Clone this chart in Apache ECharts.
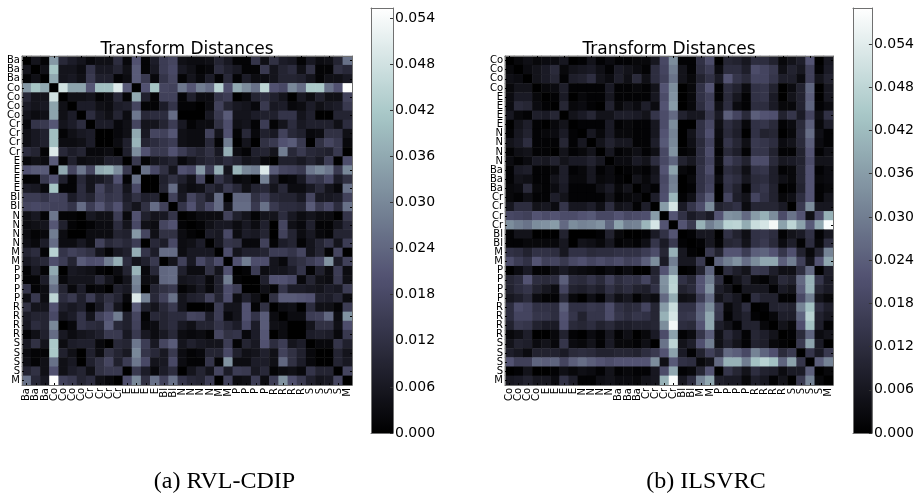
<!DOCTYPE html>
<html>
<head>
<meta charset="utf-8">
<style>html,body{margin:0;padding:0;background:#fff}#c{width:917px;height:494px}</style>
<script src="https://cdn.jsdelivr.net/npm/echarts@6/dist/echarts.min.js"></script>
</head>
<body>
<div id="c"></div>
<script>
// Labels
const rvlLabels = ["Ba","Ba","Ba","Co","Co","Co","Co","Cr","Cr","Cr","Cr","E","E","E","E","Bl","Bl","N","N","N","N","M","M","P","P","P","P","R","R","R","R","S","S","S","S","M"];
const ilsvrcLabels = ["Co","Co","Co","Co","E","E","E","E","N","N","N","N","Ba","Ba","Ba","Cr","Cr","Cr","Cr","Bl","Bl","M","M","P","P","P","P","R","R","R","R","S","S","S","S","M"];
const colorbarTicksStep = 0.006;
const rvlMax = 0.0553;
const ilsvrcMax = 0.059;

// Upper triangles of the symmetric distance matrices, in thousandths; row i starts at column i
const rvlTriangle = [
[0,5,1,33,10,7,5,2,4,4,11,2,20,1,7,15,17,4,3,3,4,9,6,1,1,13,4,12,7,6,1,6,3,4,9,26],
[0,4,41,5,5,3,13,6,6,9,4,22,1,6,15,18,6,4,1,2,11,8,6,1,1,14,5,9,11,4,12,1,1,12,10],
[0,36,5,6,4,14,8,8,1,3,22,14,2,13,17,1,5,2,7,1,10,1,7,3,3,5,9,9,8,5,1,4,4,6],
[0,48,35,35,21,40,40,50,22,0,20,41,17,16,27,21,28,25,44,19,36,31,26,45,20,18,30,25,42,42,26,20,55],
[0,4,4,5,1,3,10,1,36,8,1,16,16,1,8,3,3,13,15,0,2,9,11,8,5,0,6,3,8,4,4,16],
[0,7,7,4,3,7,8,17,1,1,7,13,1,1,0,3,16,9,6,5,2,14,6,7,2,3,7,4,6,7,14],
[0,11,6,4,9,3,27,10,11,11,25,0,0,0,6,14,22,5,5,7,8,8,13,13,5,8,0,0,9,9],
[0,7,7,2,4,17,5,5,9,15,6,1,3,3,12,19,4,5,1,15,1,5,11,6,8,8,8,4,11],
[0,0,2,4,36,6,17,16,21,4,3,3,16,5,20,1,10,2,8,6,16,10,8,2,3,12,12,4],
[0,3,8,38,9,11,13,15,4,3,3,10,1,28,0,5,0,12,14,20,22,14,0,12,17,14,2],
[0,8,31,20,14,14,20,15,11,9,12,6,37,3,1,8,9,5,28,10,14,10,9,8,14,0],
[0,14,1,5,7,9,2,5,8,10,8,11,9,5,6,2,0,8,8,6,9,6,15,0,19],
[0,26,18,12,5,20,18,33,15,37,5,38,30,28,50,22,17,16,14,27,30,27,14,30],
[0,0,8,12,8,4,17,0,13,8,2,3,0,29,8,1,2,6,15,13,18,7,12],
[0,9,25,5,3,4,10,7,14,10,4,9,10,5,10,3,3,6,10,5,2,26],
[0,16,6,17,12,7,25,0,24,24,12,16,10,9,9,6,17,6,6,7,16],
[0,13,20,12,18,25,5,25,25,14,26,14,11,11,10,22,14,18,11,26],
[0,1,3,3,3,16,8,5,1,5,5,11,6,3,5,3,3,0,13],
[0,1,4,6,6,3,6,3,8,0,17,4,2,8,1,1,5,10],
[0,7,6,18,3,7,6,9,0,16,9,3,6,2,1,9,9],
[0,6,13,12,2,2,16,1,7,9,1,5,9,13,5,15],
[0,19,5,8,8,9,15,15,13,17,5,9,1,17,0],
[0,20,28,19,19,5,2,10,12,15,18,32,7,16],
[0,1,15,3,5,5,7,13,1,8,3,15,3],
[0,0,8,20,20,18,2,9,4,3,14,4],
[0,4,1,13,7,7,6,5,7,6,15],
[0,12,22,22,21,20,8,7,10,3],
[0,3,4,0,11,4,4,1,15],
[0,3,3,15,16,24,3,32],
[0,0,5,12,12,4,19],
[0,7,8,7,2,14],
[0,2,2,13,8],
[0,0,9,5],
[0,9,6],
[0,17],
[0]
];

const ilsvrcTriangle = [
[0,2,4,2,3,3,6,0,1,5,1,3,1,1,2,2,6,19,33,1,1,13,20,0,10,9,6,12,12,9,2,5,8,22,0,6],
[0,3,5,7,11,2,5,6,7,4,1,7,5,3,1,12,18,30,5,1,12,16,3,12,12,8,20,18,15,4,9,6,17,1,7],
[0,5,7,10,1,8,9,12,5,3,8,4,11,4,12,17,28,5,2,9,13,7,22,14,11,18,18,14,8,8,3,17,5,9],
[0,2,3,8,1,1,1,1,7,1,1,2,1,5,22,33,0,2,13,22,1,12,9,3,13,14,9,0,3,9,25,0,6],
[0,1,7,0,2,1,1,6,1,1,1,1,6,20,34,0,2,13,17,1,11,6,1,13,14,7,0,5,9,24,0,6],
[0,10,2,3,1,0,9,2,5,3,8,3,22,36,0,2,12,18,4,12,3,1,12,12,7,2,2,9,25,1,3],
[0,5,7,10,5,5,8,8,7,5,14,20,26,9,6,6,15,7,24,18,11,24,22,21,9,14,7,18,4,13],
[0,1,1,1,7,1,2,1,1,6,20,33,0,0,13,19,4,12,9,2,13,14,11,1,3,11,24,2,8],
[0,6,2,7,2,2,1,1,6,22,31,0,5,13,21,3,11,8,0,13,9,10,0,2,12,27,4,1],
[0,5,9,6,6,1,1,8,23,32,0,4,11,18,2,14,10,4,15,14,12,3,5,11,24,3,1],
[0,6,1,2,4,1,4,19,34,1,2,12,20,1,11,8,1,14,14,9,1,1,9,22,1,4],
[0,3,3,7,5,12,19,25,9,6,12,18,3,17,13,9,20,20,11,6,7,9,20,5,5],
[0,1,2,1,5,22,37,2,1,13,20,1,12,10,4,13,14,8,1,2,10,22,1,3],
[0,5,2,6,19,30,0,2,13,17,3,14,12,6,11,12,8,4,2,10,22,2,3],
[0,3,1,20,31,0,1,13,18,0,13,9,1,12,14,9,0,1,9,22,1,2],
[0,8,21,41,1,4,16,24,0,18,8,5,18,13,9,2,4,12,22,1,5],
[0,36,52,7,14,20,33,9,11,13,3,10,10,10,7,0,15,33,6,6],
[0,22,13,7,10,7,22,34,33,26,36,40,33,20,28,22,4,20,40],
[0,22,15,40,30,35,47,48,39,50,52,57,37,48,37,23,38,58],
[0,1,6,6,0,13,9,4,13,14,12,1,5,7,13,1,6],
[0,1,6,1,10,11,5,13,15,11,3,8,1,12,2,12],
[0,15,9,22,22,16,24,25,22,14,21,9,2,10,31],
[0,25,30,34,27,33,38,38,24,30,17,5,22,38],
[0,12,8,5,15,14,8,4,4,12,26,0,8],
[0,5,9,2,1,5,11,9,26,40,14,7],
[0,6,6,6,1,7,5,24,40,10,7],
[0,12,9,9,1,1,19,30,5,2],
[0,1,9,10,9,31,43,12,8],
[0,2,8,8,25,47,9,6],
[0,5,2,21,43,8,1],
[0,1,11,25,3,5],
[0,15,37,7,0],
[0,14,7,15],
[0,24,31],
[0,2],
[0]
];

// matplotlib "bone" colormap anchor points
const boneAnchors = [
  [0,0,0,0],[0.365,0.319,0.319,0.444],[0.746,0.652,0.777,0.777],[1,1,1,1]
];
function boneAt(t){
  for(let i=1;i<boneAnchors.length;i++){
    if(t<=boneAnchors[i][0]){
      const a=boneAnchors[i-1],b=boneAnchors[i],f=(t-a[0])/(b[0]-a[0]);
      const c=[1,2,3].map(k=>Math.round(255*(a[k]+(b[k]-a[k])*f)));
      return 'rgb('+c.join(',')+')';
    }
  }
  return 'rgb(255,255,255)';
}
const boneColors=[]; for(let i=0;i<=64;i++) boneColors.push(boneAt(i/64));
const boneStops=boneColors.map((c,i)=>({offset:i/64,color:c}));

function cells(tri){
  const out=[];
  tri.forEach((row,i)=>row.forEach((v,k)=>{
    const j=i+k;
    out.push([j,i,v/1000]);
    if(i!==j) out.push([i,j,v/1000]);
  }));
  return out;
}

const edge={show:true,onZero:false,lineStyle:{color:'#707070',width:1}};
const grid=[],xAxis=[],yAxis=[],series=[],visualMap=[];

function addHeat(box,labels,tri,max){
  const g=grid.length; grid.push(box);
  const xi=xAxis.length, yi=yAxis.length;
  const common={type:'category',data:labels,gridIndex:g,z:5,axisLine:edge,splitLine:{show:false},
    axisTick:{show:true,inside:true,length:2,alignWithLabel:true,lineStyle:{color:'#000',width:1}}};
  xAxis.push(Object.assign({},common,{position:'bottom',axisLabel:{show:true,interval:0,rotate:90,fontFamily:'DejaVu Sans',fontSize:10,color:'#000',margin:3}}));
  xAxis.push(Object.assign({},common,{position:'top',axisLabel:{show:false}}));
  yAxis.push(Object.assign({},common,{inverse:true,position:'left',axisLabel:{show:true,interval:0,fontFamily:'DejaVu Sans',fontSize:10,color:'#000',margin:2}}));
  yAxis.push(Object.assign({},common,{inverse:true,position:'right',axisLabel:{show:false}}));
  const si=series.length;
  series.push({type:'heatmap',xAxisIndex:xi,yAxisIndex:yi,data:cells(tri),progressive:0,animation:false,
    itemStyle:{borderWidth:0},emphasis:{disabled:true}});
  visualMap.push({type:'continuous',show:false,min:0,max:max,seriesIndex:si,dimension:2,inRange:{color:boneColors}});
}
function addBar(box,max){
  const g=grid.length; grid.push(box);
  const xi=xAxis.length, yi=yAxis.length;
  const cx={type:'category',data:['scale'],gridIndex:g,z:5,axisLine:edge,axisTick:{show:false},axisLabel:{show:false}};
  xAxis.push(Object.assign({},cx,{position:'bottom'}));
  xAxis.push(Object.assign({},cx,{position:'top'}));
  const cy={type:'value',gridIndex:g,z:5,min:0,max:max,interval:colorbarTicksStep,axisLine:edge,splitLine:{show:false}};
  yAxis.push(Object.assign({},cy,{position:'right',
    axisTick:{show:true,inside:true,length:3,lineStyle:{color:'#333',width:1}},
    axisLabel:{show:true,showMaxLabel:false,formatter:v=>v.toFixed(3),fontFamily:'DejaVu Sans',fontSize:14,color:'#000',margin:2}}));
  yAxis.push(Object.assign({},cy,{position:'left',axisTick:{show:false},axisLabel:{show:false}}));
  series.push({type:'bar',xAxisIndex:xi,yAxisIndex:yi,data:[max],barWidth:'100%',silent:true,animation:false,
    itemStyle:{color:new echarts.graphic.LinearGradient(0,1,0,0,boneStops)}});
}

addHeat({left:22,top:56,width:330,height:329},rvlLabels,rvlTriangle,rvlMax);
addHeat({left:505,top:56,width:328,height:329},ilsvrcLabels,ilsvrcTriangle,ilsvrcMax);
addBar({left:371,top:8,width:22,height:425},rvlMax);
addBar({left:853,top:8,width:22,height:425},ilsvrcMax);

const chart=echarts.init(document.getElementById('c'),null,{renderer:'canvas'});
chart.setOption({
  animation:false,
  backgroundColor:'#fff',
  title:[
    {text:'Transform Distances',left:187,top:41,textAlign:'center',padding:0,textStyle:{fontFamily:'DejaVu Sans',fontWeight:'normal',fontSize:17,color:'#000'}},
    {text:'Transform Distances',left:669,top:41,textAlign:'center',padding:0,textStyle:{fontFamily:'DejaVu Sans',fontWeight:'normal',fontSize:17,color:'#000'}},
    {text:'(a) RVL-CDIP',left:224.5,top:470,textAlign:'center',padding:0,textStyle:{fontFamily:'Liberation Serif',fontWeight:'normal',fontSize:24,color:'#000'}},
    {text:'(b) ILSVRC',left:706,top:470,textAlign:'center',padding:0,textStyle:{fontFamily:'Liberation Serif',fontWeight:'normal',fontSize:24,color:'#000'}}
  ],
  tooltip:{show:false},
  grid,xAxis,yAxis,visualMap,series
});
</script>
</body>
</html>
